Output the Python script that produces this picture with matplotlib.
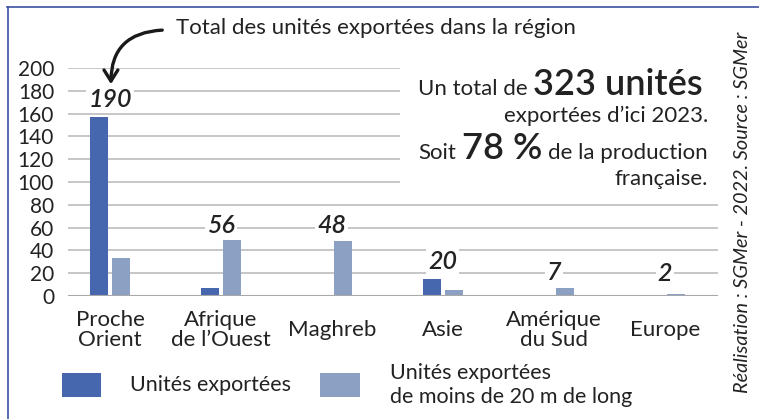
import matplotlib
matplotlib.use("Agg")
import matplotlib.pyplot as plt
from matplotlib.patches import Rectangle, FancyArrowPatch
from matplotlib.lines import Line2D
import numpy as np

plt.rcParams['font.family'] = ['Lato', 'DejaVu Sans']

# %%
# Data
regions = ["Proche\nOrient", "Afrique\nde l’Ouest", "Maghreb", "Asie", "Amérique\ndu Sud", "Europe"]
units_exported = [157, 7, 0, 15, 0, 0]
units_small = [33, 49, 48, 5, 7, 2]
totals = [190, 56, 48, 20, 7, 2]
yticks = list(range(0, 201, 20))

# label heights on the chart (not data)
label_y = [172, 62, 62, 30, 21, 20]

c_dark = '#4666ae'
c_light = '#8ba0c3'
c_text = '#222222'

W, H = 759, 419
fig = plt.figure(figsize=(W / 100, H / 100), dpi=100)

def fx(px):
    return px / W

def fy(py):
    return 1 - py / H

# axes: x 68..718 px, y 68..296 px
ax = fig.add_axes([fx(68), fy(296), fx(718) - fx(68), fy(68) - fy(296)])
x = np.arange(len(regions))
bw = 0.165
ax.bar(x - 0.1, units_exported, bw, color=c_dark, zorder=3)
ax.bar(x + 0.1, units_small, bw, color=c_light, zorder=3)

ax.set_xlim(-0.38, 5.48)
ax.set_ylim(0, 200)
ax.set_yticks(yticks)
ax.set_yticklabels([str(v) for v in yticks], fontsize=15, color=c_text)
ax.grid(axis='y', color='#c6c6c6', linewidth=1.4, zorder=0)
ax.axhline(0, color='#a8a8a8', linewidth=1.5, zorder=4)
for s in ax.spines.values():
    s.set_visible(False)
ax.tick_params(axis='y', length=0, pad=10)
ax.tick_params(axis='x', length=0, pad=24.5)
ax.set_xticks(x)
ax.set_xticklabels(regions, fontsize=16, color=c_text, linespacing=0.95)
for t in ax.get_xticklabels():
    t.set_va('center')

# white area behind the summary text
ax.add_patch(Rectangle((0.51, 0.46), 0.49, 0.6, transform=ax.transAxes,
                       facecolor='white', edgecolor='none', zorder=2, clip_on=False))

# totals
for xi, ly, tot in zip(x, label_y, totals):
    ax.text(xi, ly, str(tot), ha='center', va='center', fontsize=18,
            style='italic', fontweight='semibold', color=c_text, zorder=5,
            bbox=dict(facecolor='white', edgecolor='none', pad=1.5))

# annotation title and arrow
fig.text(fx(176), fy(28), "Total des unités exportées dans la région",
         ha='left', va='center', fontsize=16, color=c_text)
arrow = FancyArrowPatch((fx(165), fy(30)), (fx(111), fy(87)),
                        transform=fig.transFigure, connectionstyle="arc3,rad=0.5",
                        arrowstyle="->,head_length=8,head_width=5",
                        color='#1a1a1a', linewidth=2.4)
fig.add_artist(arrow)

# summary text block, built right to left
fig.canvas.draw()
renderer = fig.canvas.get_renderer()

def chain(parts, right_px, base_px):
    xr = right_px
    for txt, size, weight in reversed(parts):
        t = fig.text(fx(xr), fy(base_px), txt, ha='right', va='baseline',
                     fontsize=size, fontweight=weight, color=c_text)
        bb = t.get_window_extent(renderer)
        xr = bb.x0 - 6

chain([("Un total de", 16, 'normal'), ("323 unités", 26, 'semibold')], 703, 95)
chain([("exportées d’ici 2023.", 16, 'normal')], 708, 122)
chain([("Soit", 16, 'normal'), ("78 %", 26, 'semibold'), ("de la production", 16, 'normal')], 708, 159)
chain([("française.", 16, 'normal')], 708, 185)

# source, rotated
fig.text(fx(743), fy(212), "Réalisation : SGMer - 2022. Source : SGMer",
         rotation=90, ha='center', va='center', fontsize=14.3,
         style='italic', color=c_text)

# legend
fig.add_artist(Rectangle((fx(62), fy(397)), fx(101) - fx(62), fy(373) - fy(397),
                         transform=fig.transFigure, facecolor=c_dark, edgecolor='none'))
fig.add_artist(Rectangle((fx(320), fy(397)), fx(360) - fx(320), fy(373) - fy(397),
                         transform=fig.transFigure, facecolor=c_light, edgecolor='none'))
fig.text(fx(130), fy(385), "Unités exportées", ha='left', va='center',
         fontsize=15.5, color=c_text)
fig.text(fx(390), fy(385), "Unités exportées\nde moins de 20 m de long", ha='left',
         va='center', fontsize=15.5, color=c_text, linespacing=1.3)

# frame lines (top and left)
fig.add_artist(Line2D([fx(7), 1], [fy(7.5), fy(7.5)], transform=fig.transFigure,
                      color='#3c52a0', linewidth=1.2))
fig.add_artist(Line2D([fx(7.5), fx(7.5)], [fy(7), 0], transform=fig.transFigure,
                      color='#3c52a0', linewidth=1.2))

fig.savefig("out.png", dpi=100)
